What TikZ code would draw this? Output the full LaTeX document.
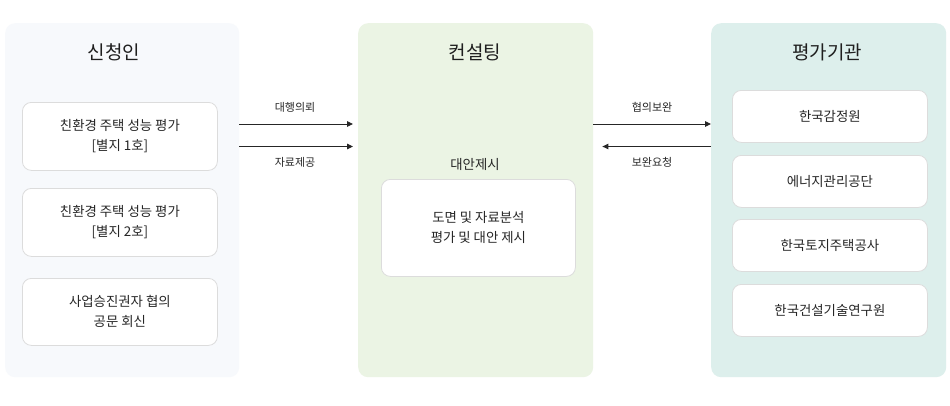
\documentclass[tikz,border=0pt]{standalone}
\usepackage{fontspec}
\setmainfont{Noto Sans CJK KR}
\usetikzlibrary{arrows.meta}
\definecolor{lpbg}{HTML}{F7F9FC}
\definecolor{mpbg}{HTML}{EBF4E4}
\definecolor{rpbg}{HTML}{DDEFEC}
\definecolor{bxline}{HTML}{DCDCDC}
\definecolor{txt}{HTML}{262626}
\tikzset{
  panel/.style={anchor=north west, inner sep=0pt, rounded corners=10pt, minimum width=234pt, minimum height=354pt},
  ptitle/.style={font=\fontsize{19}{23}\selectfont, text=black!88},
  card/.style={anchor=north west, draw=bxline, line width=0.8pt, fill=white, rounded corners=9pt, inner sep=0pt, align=center, text=txt, font=\fontsize{13.4}{20}\selectfont},
  lbl/.style={font=\fontsize{11}{13}\selectfont, text=txt},
  arr/.style={line width=0.9pt, draw=black!85, -{Triangle[length=6pt,width=5.5pt]}},
}
\begin{document}
\begin{tikzpicture}[x=1pt,y=-1pt]
\useasboundingbox (0,0) rectangle (950,405);
\fill[white] (0,0) rectangle (950,405);
% panels
\node[panel, fill=lpbg] (lp) at (5,23) {};
\node[panel, fill=mpbg, minimum width=235pt] (mp) at (358,23) {};
\node[panel, fill=rpbg, minimum width=235pt] (rp) at (711,23) {};
% titles
\node[ptitle] (lt) at (114,52) {신청인};
\node[ptitle] (mt) at (475,52) {컨설팅};
\node[ptitle] (rt) at (827,52) {평가기관};
% left cards
\node[card, minimum width=195pt, minimum height=68pt] (l1) at (22,102) {친환경 주택 성능 평가\\{}[별지 1호]};
\node[card, minimum width=195pt, minimum height=68pt] (l2) at (22,188) {친환경 주택 성능 평가\\{}[별지 2호]};
\node[card, minimum width=195pt, minimum height=67pt] (l3) at (22,278) {사업승진권자 협의\\공문 회신};
% middle
\node[font=\fontsize{13.4}{16}\selectfont, text=txt] (ms) at (475,164) {대안제시};
\node[card, minimum width=194pt, minimum height=97pt] (m1) at (381,179) {도면 및 자료분석\\평가 및 대안 제시};
% right cards
\node[card, minimum width=195pt, minimum height=52pt] (r1) at (732,90) {한국감정원};
\node[card, minimum width=195pt, minimum height=52pt] (r2) at (732,155) {에너지관리공단};
\node[card, minimum width=195pt, minimum height=52pt] (r3) at (732,219) {한국토지주택공사};
\node[card, minimum width=195pt, minimum height=52pt] (r4) at (732,284) {한국건설기술연구원};
% arrows
\coordinate (ya) at (0,124);
\coordinate (yb) at (0,146.5);
\draw[arr, shorten >=5pt] (lp.east |- ya) -- (mp.west |- ya);
\draw[arr, shorten >=5pt] (lp.east |- yb) -- (mp.west |- yb);
\draw[arr] (mp.east |- ya) -- (rp.west |- ya);
\draw[arr, shorten >=9pt] (rp.west |- yb) -- (mp.east |- yb);
% labels
\node[lbl] (la) at (295,107) {대행의뢰};
\node[lbl] (lb) at (295,162) {자료제공};
\node[lbl] (lc) at (652,107) {협의보완};
\node[lbl] (ld) at (652,162) {보완요청};
\end{tikzpicture}
\end{document}
